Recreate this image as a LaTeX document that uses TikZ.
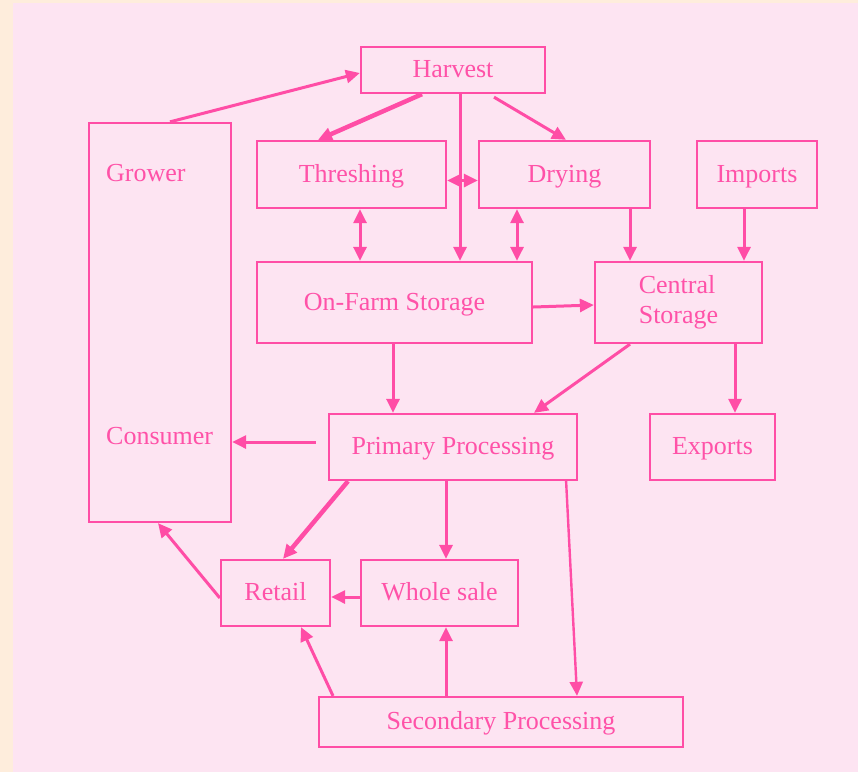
\documentclass[tikz,border=0pt]{standalone}
\usepackage{fontspec}
\setmainfont{Liberation Serif}
\usetikzlibrary{arrows.meta}
\definecolor{cream}{RGB}{254,237,220}
\definecolor{panel}{RGB}{253,228,242}
\definecolor{ink}{RGB}{255,77,166}
\definecolor{txt}{RGB}{255,82,168}
\begin{document}
\begin{tikzpicture}[x=1pt,y=-1pt,
  box/.style={draw=ink,line width=2.3pt,fill=panel,inner sep=0pt,
    text=txt,font=\fontsize{26}{30}\selectfont,text height=15pt,text depth=0pt},
  lbl/.style={inner sep=0pt,text=txt,font=\fontsize{26}{30}\selectfont,anchor=west},
  flow/.style={draw=ink,line width=3pt,-{Triangle[length=14pt,width=13pt]}},
  both/.style={draw=ink,line width=3pt,{Triangle[length=14pt,width=13pt]}-{Triangle[length=14pt,width=13pt]}},
  heavy/.style={flow,line width=4.5pt}]
% background
\fill[cream] (0,0) rectangle (858,772);
\fill[panel] (13,3) rectangle (858,772);
\useasboundingbox (0,0) rectangle (858,772);

% boxes
\node[box,minimum width=184pt,minimum height=46pt] (harvest) at (453,70) {Harvest};
\node[box,minimum width=142pt,minimum height=399pt] (gc) at (160,322.5) {};
\node[lbl] (grower) at (106,173) {Grower};
\node[lbl] (consumer) at (106,436) {Consumer};
\node[box,minimum width=189pt,minimum height=67pt] (thresh) at (351.5,174.5) {Threshing};
\node[box,minimum width=171pt,minimum height=67pt] (drying) at (564.5,174.5) {Drying};
\node[box,minimum width=120pt,minimum height=67pt] (imports) at (757,174.5) {Imports};
\node[box,minimum width=275pt,minimum height=81pt] (onfarm) at (394.5,302.5) {On-Farm Storage};
\node[box,minimum width=167pt,minimum height=81pt,align=left,text height=,text depth=] (central) at (678.5,302.5) {Central\\Storage};
\node[box,minimum width=248pt,minimum height=66pt] (primary) at (453,447) {Primary Processing};
\node[box,minimum width=125pt,minimum height=66pt] (exports) at (712.5,447) {Exports};
\node[box,minimum width=109pt,minimum height=66pt] (retail) at (275.5,593) {Retail};
\node[box,minimum width=157pt,minimum height=66pt] (whole) at (439.5,593) {Whole sale};
\node[box,minimum width=364pt,minimum height=50pt] (secondary) at (501,722) {Secondary Processing};

% connectors
\draw[flow] ([xshift=10pt]gc.north) -- ([yshift=-3pt]harvest.west);
\draw[heavy] ([xshift=-31pt]harvest.south) -- ([xshift=-33.5pt]thresh.north);
\draw[flow] ([xshift=7pt]harvest.south) -- ([xshift=65.5pt]onfarm.north);
\draw[flow] ([xshift=41pt,yshift=-3pt]harvest.south) -- ([xshift=1.5pt]drying.north);
\draw[both] ([yshift=-6pt]thresh.east) -- ([yshift=-6pt]drying.west);
\draw[both] ([xshift=8.5pt]thresh.south) -- ([xshift=-34.5pt]onfarm.north);
\draw[both] ([xshift=-47.5pt]drying.south) -- ([xshift=122.5pt]onfarm.north);
\draw[flow] ([xshift=65.5pt]drying.south) -- ([xshift=-48.5pt]central.north);
\draw[flow] ([xshift=-13pt]imports.south) -- ([xshift=65.5pt]central.north);
\draw[flow] ([yshift=-4.5pt]onfarm.east) -- ([yshift=-2.5pt]central.west);
\draw[flow] ([xshift=-1.5pt]onfarm.south) -- ([xshift=-60pt]primary.north);
\draw[flow] ([xshift=-48.5pt]central.south) -- ([xshift=81pt]primary.north);
\draw[flow] ([xshift=56.5pt]central.south) -- ([xshift=22.5pt]exports.north);
\draw[flow] ([xshift=-12pt,yshift=5pt]primary.west) -- ([yshift=-119.5pt]gc.east);
\draw[heavy] ([xshift=-105pt]primary.south) -- ([xshift=7.5pt]retail.north);
\draw[flow] ([xshift=-7pt]primary.south) -- ([xshift=6.5pt]whole.north);
\draw[flow,line width=2.4pt] ([xshift=113pt,yshift=2pt]primary.south) -- ([xshift=76pt]secondary.north);
\draw[flow] ([yshift=-4pt]whole.west) -- ([yshift=-4pt]retail.east);
\draw[flow] ([yshift=-5pt]retail.west) -- ([xshift=-2pt]gc.south);
\draw[flow] ([xshift=-168pt]secondary.north) -- ([xshift=25.5pt]retail.south);
\draw[flow] ([xshift=-55pt]secondary.north) -- ([xshift=6.5pt]whole.south);
\end{tikzpicture}
\end{document}
